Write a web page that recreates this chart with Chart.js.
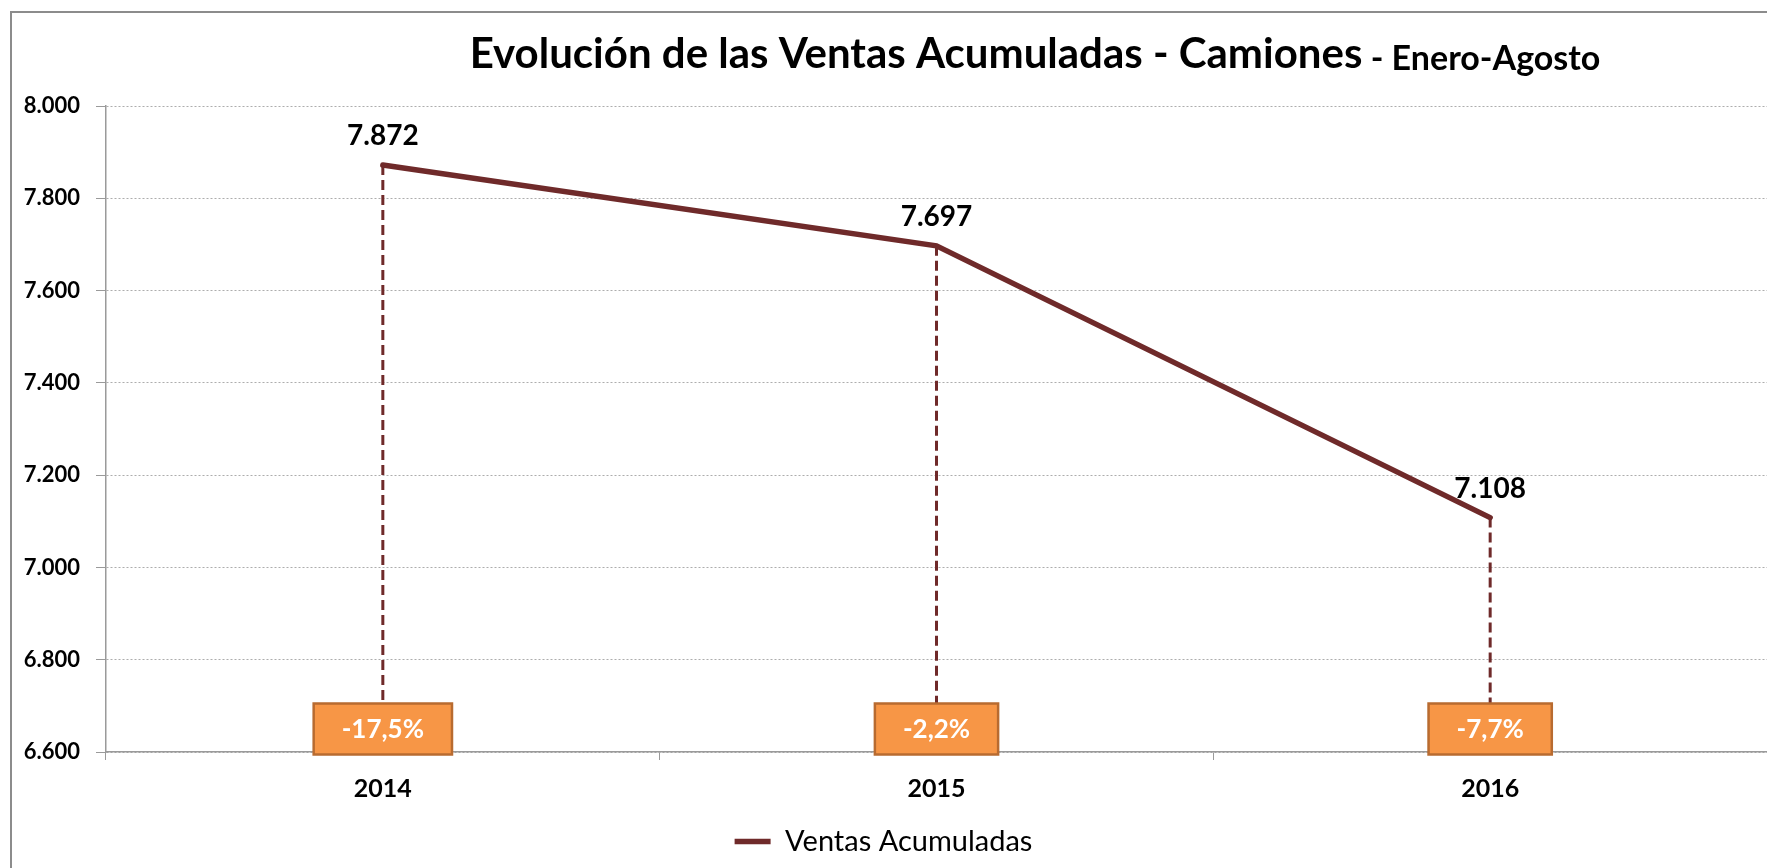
<!DOCTYPE html>
<html lang="es">
<head>
<meta charset="utf-8">
<title>Evolución de las Ventas Acumuladas - Camiones</title>
<script src="https://cdn.jsdelivr.net/npm/chart.js@4.4.1/dist/chart.umd.min.js"></script>
<style>
  html, body { margin: 0; padding: 0; background: #fff; }
  #wrap { width: 1767px; height: 868px; }
</style>
</head>
<body>
<div id="wrap"><canvas id="chart" width="1767" height="868"></canvas></div>
<script>
// Datos
const years = ['2014', '2015', '2016'];
const ventas = [7872, 7697, 7108];
const variacion = [-17.5, -2.2, -7.7];
const yMin = 6600;
const yMax = 8000;
const yStep = 200;

const FONT = "Lato, 'Open Sans', sans-serif";
const LINE_COLOR = '#6F2A2A';
const BOX_FILL = '#F79646';
const BOX_EDGE = '#B86B30';
const AXIS_GRAY = '#9a9a9a';

// 7872 -> "7.872"
function formatMiles(v) {
    return Math.round(v).toString().replace(/\B(?=(\d{3})+(?!\d))/g, '.');
}

// -17.5 -> "-17,5%"
function formatPct(v) {
    return v.toFixed(1).replace('.', ',') + '%';
}

// white background + the grey frame at top / left
const framePlugin = {
    id: 'marco',
    beforeDraw(chart) {
        const ctx = chart.ctx;
        ctx.save();
        ctx.fillStyle = '#fff';
        ctx.fillRect(0, 0, chart.width, chart.height);
        ctx.strokeStyle = '#8c8c8c';
        ctx.lineWidth = 2;
        ctx.beginPath();
        ctx.moveTo(11, chart.height);
        ctx.lineTo(11, 12);
        ctx.lineTo(chart.width, 12);
        ctx.stroke();
        ctx.restore();
    }
};

// title with two font sizes
const titlePlugin = {
    id: 'titulo',
    afterDraw(chart) {
        const ctx = chart.ctx;
        const main = 'Evolución de las Ventas Acumuladas - Camiones';
        const sub = ' - Enero-Agosto';
        ctx.save();
        ctx.fillStyle = '#000';
        ctx.textBaseline = 'alphabetic';
        ctx.textAlign = 'left';
        ctx.font = 'bold 42px ' + FONT;
        const w1 = ctx.measureText(main).width;
        ctx.font = 'bold 34px ' + FONT;
        const w2 = ctx.measureText(sub).width;
        const x0 = 1035 - (w1 + w2) / 2;
        ctx.font = 'bold 42px ' + FONT;
        ctx.fillText(main, x0, 68);
        ctx.font = 'bold 34px ' + FONT;
        ctx.fillText(sub, x0 + w1, 70);
        ctx.restore();
    }
};

// drop lines, value labels and the orange variation boxes
const marcasPlugin = {
    id: 'marcas',
    beforeDatasetsDraw(chart) {
        const ctx = chart.ctx;
        const meta = chart.getDatasetMeta(0);
        const boxMid = chart.scales.y.getPixelForValue(yMin) - 23;
        ctx.save();
        ctx.strokeStyle = LINE_COLOR;
        ctx.lineWidth = 3;
        ctx.setLineDash([10, 5]);
        meta.data.forEach(pt => {
            ctx.beginPath();
            ctx.moveTo(pt.x, pt.y);
            ctx.lineTo(pt.x, boxMid - 25);
            ctx.stroke();
        });
        ctx.restore();
    },
    afterDatasetsDraw(chart) {
        const ctx = chart.ctx;
        const meta = chart.getDatasetMeta(0);
        const boxMid = chart.scales.y.getPixelForValue(yMin) - 23;
        ctx.save();
        meta.data.forEach((pt, i) => {
            // value label
            ctx.fillStyle = '#000';
            ctx.font = 'bold 28px ' + FONT;
            ctx.textAlign = 'center';
            ctx.textBaseline = 'alphabetic';
            ctx.fillText(formatMiles(ventas[i]), pt.x, pt.y - 20);

            // variation box
            const txt = formatPct(variacion[i]);
            ctx.font = 'bold 26px ' + FONT;
            const w = ctx.measureText(txt).width + 56;
            const h = 51;
            ctx.fillStyle = BOX_FILL;
            ctx.strokeStyle = BOX_EDGE;
            ctx.lineWidth = 2.5;
            ctx.fillRect(pt.x - w / 2, boxMid - h / 2, w, h);
            ctx.strokeRect(pt.x - w / 2, boxMid - h / 2, w, h);
            ctx.fillStyle = '#fff';
            ctx.textBaseline = 'middle';
            ctx.fillText(txt, pt.x, boxMid + 1);
        });
        ctx.restore();
    }
};

new Chart(document.getElementById('chart'), {
    type: 'line',
    data: {
        labels: years,
        datasets: [{
            label: 'Ventas Acumuladas',
            data: ventas,
            borderColor: LINE_COLOR,
            backgroundColor: LINE_COLOR,
            borderWidth: 5.5,
            borderCapStyle: 'round',
            pointRadius: 0,
            pointHoverRadius: 0,
            tension: 0,
            clip: false
        }]
    },
    options: {
        responsive: false,
        animation: false,
        layout: {
            padding: { top: 106, left: 0, right: 0, bottom: 2 }
        },
        plugins: {
            title: { display: false },
            tooltip: { enabled: false },
            legend: {
                position: 'bottom',
                labels: {
                    usePointStyle: true,
                    pointStyle: 'line',
                    pointStyleWidth: 36,
                    color: '#000',
                    padding: 10,
                    font: { family: FONT, size: 29 }
                }
            }
        },
        scales: {
            x: {
                offset: true,
                grid: {
                    offset: true,
                    drawOnChartArea: false,
                    drawTicks: true,
                    tickLength: 8,
                    color: AXIS_GRAY
                },
                border: { color: AXIS_GRAY, width: 1.5 },
                ticks: {
                    color: '#000',
                    padding: 14,
                    font: { family: FONT, size: 25, weight: 'bold' }
                },
                afterFit(scale) { scale.height = 65; }
            },
            y: {
                min: yMin,
                max: yMax,
                ticks: {
                    stepSize: yStep,
                    color: '#000',
                    padding: 16,
                    font: { family: FONT, size: 22, weight: 'bold' },
                    callback: v => formatMiles(v)
                },
                grid: {
                    color: '#adadad',
                    tickColor: AXIS_GRAY,
                    tickLength: 10,
                    tickBorderDash: [],
                    lineWidth: 1
                },
                border: { color: AXIS_GRAY, width: 1.5, dash: [2, 2] },
                afterFit(scale) { scale.width = 106; }
            }
        }
    },
    plugins: [framePlugin, marcasPlugin, titlePlugin]
});
</script>
</body>
</html>
